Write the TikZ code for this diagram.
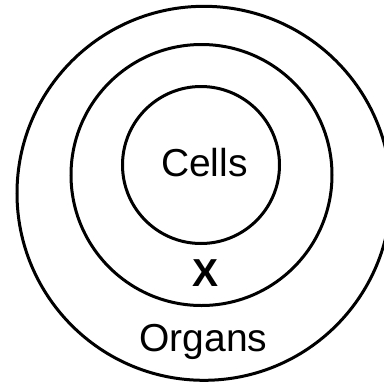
\documentclass[tikz,border=0pt]{standalone}
\usepackage{fontspec}
\setmainfont{Liberation Sans}
\begin{document}
\begin{tikzpicture}[x=1pt,y=-1pt,
  ring/.style={circle,draw=black,line width=3pt,inner sep=0pt,fill=none},
  lbl/.style={anchor=base,inner sep=0pt,font=\fontsize{39}{41}\selectfont}]
\useasboundingbox (0,0) rectangle (384,384);
\clip (0,0) rectangle (384,384);
\node[ring,minimum size=374pt] (outer) at (204,193.3) {};
\node[ring,minimum size=261pt] (middle) at (201.5,175) {};
\node[ring,minimum size=157pt] (inner) at (201,165) {};
\node[lbl] (cells) at (204.4,176.7) {Cells};
\node[lbl,font=\fontsize{39}{41}\selectfont\bfseries] (x) at (206,286.7) {X};
\node[lbl] (organs) at (203.3,351.7) {Organs};
\end{tikzpicture}
\end{document}
